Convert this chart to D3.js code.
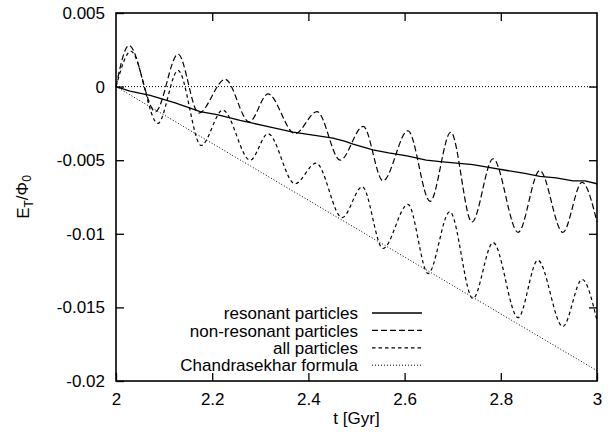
<!DOCTYPE html>
<html>
<head>
<meta charset="utf-8">
<script src="https://cdn.jsdelivr.net/npm/d3@7"></script>
<style>
  body { margin: 0; background: #fff; }
  text { font-family: "Liberation Sans", Arial, sans-serif; fill: #000; }
</style>
</head>
<body>
<div id="chart"></div>
<script>
// values
const resT = [2.000, 2.029, 2.071, 2.123, 2.175, 2.210, 2.258, 2.314, 2.368, 2.410, 2.451, 2.475, 2.493, 2.534, 2.567, 2.605, 2.645, 2.674, 2.708, 2.742, 2.778, 2.813, 2.850, 2.881, 2.915, 2.950, 2.975, 3.000];
const resE = [0, -0.0003, -0.0006, -0.0011, -0.0017, -0.0019, -0.0023, -0.0027, -0.0031, -0.0033, -0.0035, -0.0037, -0.0039, -0.0043, -0.0045, -0.0047, -0.0050, -0.0051, -0.0052, -0.0053, -0.0055, -0.0057, -0.0059, -0.0061, -0.0062, -0.0064, -0.0064, -0.0066];

const nonresT = [2.000, 2.027, 2.082, 2.129, 2.172, 2.227, 2.277, 2.316, 2.372, 2.418, 2.466, 2.514, 2.555, 2.607, 2.653, 2.696, 2.740, 2.784, 2.836, 2.881, 2.929, 2.969, 3.000];
const nonresE = [0, 0.0028, -0.0017, 0.0022, -0.0018, 0.0005, -0.0024, -0.0005, -0.0032, -0.0017, -0.0050, -0.0027, -0.0064, -0.0030, -0.0078, -0.0031, -0.0092, -0.0049, -0.0099, -0.0057, -0.0099, -0.0065, -0.0092];

const allT = [2.000, 2.031, 2.087, 2.129, 2.177, 2.222, 2.279, 2.316, 2.372, 2.416, 2.470, 2.512, 2.555, 2.607, 2.649, 2.694, 2.742, 2.784, 2.836, 2.877, 2.929, 2.969, 3.000];
const allE = [0, 0.0024, -0.0025, 0.0011, -0.0040, -0.0016, -0.0050, -0.0032, -0.0066, -0.0052, -0.0089, -0.0068, -0.0110, -0.0080, -0.0127, -0.0085, -0.0144, -0.0106, -0.0157, -0.0118, -0.0163, -0.0131, -0.0159];

const chandraT = [2, 3];
const chandraE = [0, -0.0193];

const xTicks = [2, 2.2, 2.4, 2.6, 2.8, 3];
const xTickLabels = ["2", "2.2", "2.4", "2.6", "2.8", "3"];
const yTicks = [0.005, 0, -0.005, -0.01, -0.015, -0.02];
const yTickLabels = ["0.005", "0", "-0.005", "-0.01", "-0.015", "-0.02"];

const seriesNames = ["resonant particles", "non-resonant particles", "all particles", "Chandrasekhar formula"];

// layout
const width = 610, height = 438;
const margin = { top: 13, right: 13, bottom: 57, left: 116 };
const plotW = width - margin.left - margin.right;
const plotH = height - margin.top - margin.bottom;

const dashes = ["none", "6,3", "3.5,3", "1,2"];
const widths = [1.3, 1.2, 1.2, 1];

const svg = d3.select("#chart").append("svg")
    .attr("width", width)
    .attr("height", height);

const g = svg.append("g").attr("transform", "translate(" + margin.left + "," + margin.top + ")");

const xScale = d3.scaleLinear().domain([2, 3]).range([0, plotW]);
const yScale = d3.scaleLinear().domain([-0.02, 0.005]).range([plotH, 0]);

// axes, ticks point inward on all four sides
g.append("g").attr("transform", "translate(0," + plotH + ")")
    .call(d3.axisBottom(xScale).tickValues(xTicks).tickSize(-8).tickPadding(12)
        .tickFormat((d, i) => xTickLabels[i]))
    .call(a => a.select(".domain").remove());
g.append("g")
    .call(d3.axisTop(xScale).tickValues(xTicks.slice(1, -1)).tickSize(-8).tickFormat(""))
    .call(a => a.select(".domain").remove());
g.append("g")
    .call(d3.axisLeft(yScale).tickValues(yTicks).tickSize(-8).tickPadding(11)
        .tickFormat((d, i) => yTickLabels[i]))
    .call(a => a.select(".domain").remove());
g.append("g").attr("transform", "translate(" + plotW + ",0)")
    .call(d3.axisRight(yScale).tickValues(yTicks.slice(1, -1)).tickSize(-8).tickFormat(""))
    .call(a => a.select(".domain").remove());

g.selectAll(".tick line").attr("stroke", "#000").attr("stroke-width", 1.3);
g.selectAll(".tick text").style("font-size", "17px").attr("fill", "#000");

// zero line
g.append("line")
    .attr("x1", 0).attr("x2", plotW)
    .attr("y1", yScale(0)).attr("y2", yScale(0))
    .attr("stroke", "#000").attr("stroke-width", 1).attr("stroke-dasharray", "1,2");

const zip = (ts, es) => ts.map((t, i) => ({ t: t, e: es[i] }));
const series = [
    { pts: zip(resT, resE), curve: d3.curveLinear },
    { pts: zip(nonresT, nonresE), curve: d3.curveMonotoneX },
    { pts: zip(allT, allE), curve: d3.curveMonotoneX },
    { pts: zip(chandraT, chandraE), curve: d3.curveLinear }
];

series.forEach((s, i) => {
    const lineGen = d3.line().x(d => xScale(d.t)).y(d => yScale(d.e)).curve(s.curve);
    g.append("path")
        .attr("d", lineGen(s.pts))
        .attr("fill", "none")
        .attr("stroke", "#000")
        .attr("stroke-width", widths[i])
        .attr("stroke-dasharray", dashes[i]);
});

// frame
g.append("rect")
    .attr("width", plotW).attr("height", plotH)
    .attr("fill", "none").attr("stroke", "#000").attr("stroke-width", 1.6);

// legend
const legend = g.append("g").attr("transform", "translate(" + (358 - margin.left) + "," + (313 - margin.top) + ")");
seriesNames.forEach((name, i) => {
    const row = legend.append("g").attr("transform", "translate(0," + (i * 17.4) + ")");
    row.append("text").attr("x", 0).attr("y", 0).attr("dy", "0.36em")
        .attr("text-anchor", "end").style("font-size", "17px").text(name);
    row.append("line").attr("x1", 14).attr("x2", 64).attr("y1", 0).attr("y2", 0)
        .attr("stroke", "#000").attr("stroke-width", widths[i]).attr("stroke-dasharray", dashes[i]);
});

// axis titles
svg.append("text")
    .attr("x", margin.left + plotW / 2).attr("y", 424)
    .attr("text-anchor", "middle").style("font-size", "17px")
    .text("t [Gyr]");

const yLab = svg.append("text")
    .attr("transform", "translate(29," + (margin.top + plotH / 2) + ") rotate(-90)")
    .attr("text-anchor", "middle").style("font-size", "17px");
yLab.append("tspan").text("E");
yLab.append("tspan").attr("dy", "0.3em").style("font-size", "12px").text("T");
yLab.append("tspan").attr("dy", "-0.3em").text("/Φ");
yLab.append("tspan").attr("dy", "0.3em").style("font-size", "12px").text("0");
</script>
</body>
</html>
